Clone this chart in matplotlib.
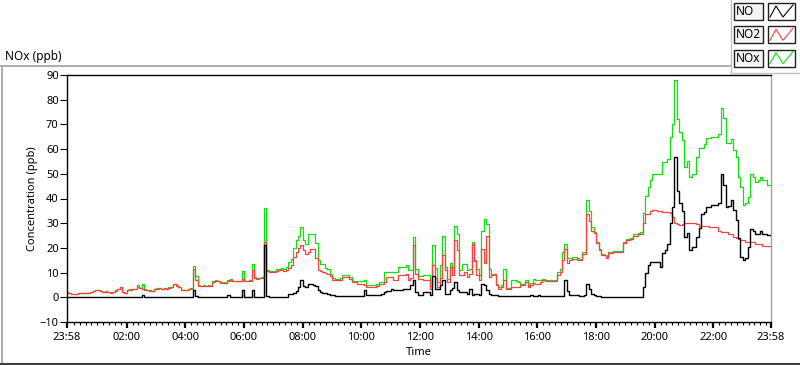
import matplotlib.pyplot as plt
import numpy as np
from matplotlib.lines import Line2D
from matplotlib.patches import Rectangle

# 5-minute readings from 23:58 to 23:58 next day, one row per hour
NO2_PPB = [
    2.0, 1.6, 1.3, 1.2, 1.3, 1.7, 1.8, 1.8, 1.7, 1.8, 2.1, 2.6,
    2.8, 2.8, 2.4, 2.2, 2.3, 2.0, 1.9, 2.0, 2.7, 3.2, 4.0, 2.2,
    1.8, 2.8, 3.1, 3.2, 3.3, 4.3, 3.6, 3.4, 3.1, 3.0, 2.7, 2.6,
    3.4, 3.5, 3.6, 3.4, 3.6, 3.3, 3.9, 4.2, 5.2, 4.6, 4.0, 2.8,
    2.8, 2.9, 3.3, 3.5, 11.5, 7.0, 4.6, 4.4, 4.6, 4.5, 4.6, 4.4,
    6.2, 6.6, 6.5, 5.9, 5.8, 5.7, 6.8, 7.0, 6.6, 6.5, 6.4, 6.6,
    7.6, 6.6, 6.6, 6.8, 10.9, 8.0, 7.6, 7.8, 8.0, 22.5, 10.5, 10.2,
    10.2, 10.3, 10.6, 10.9, 11.0, 10.8, 11.2, 12.0, 13.0, 16.5, 18.5, 20.0,
    21.0, 19.0, 17.7, 18.5, 19.5, 19.5, 16.0, 11.0, 10.5, 10.3, 9.8, 9.6,
    8.5, 7.0, 6.9, 6.9, 7.2, 8.2, 8.4, 8.2, 7.5, 6.2, 6.0, 5.5,
    5.5, 5.5, 5.0, 4.2, 4.2, 4.2, 4.3, 4.5, 5.3, 5.3, 6.2, 8.2,
    8.2, 8.2, 6.9, 6.9, 8.9, 8.9, 8.9, 9.6, 6.9, 8.0, 21.0, 9.6,
    7.6, 7.6, 6.9, 6.9, 6.9, 3.5, 13.0, 8.0, 4.2, 8.0, 17.0, 10.9,
    6.2, 12.3, 8.9, 23.0, 19.0, 8.9, 8.9, 10.3, 8.2, 9.6, 21.7, 14.5,
    8.9, 6.9, 19.7, 14.0, 25.0, 8.2, 8.9, 9.6, 4.9, 3.5, 4.2, 6.9,
    3.5, 3.5, 4.2, 4.2, 4.2, 4.2, 4.9, 4.9, 6.2, 4.2, 4.9, 5.9,
    5.5, 5.5, 6.2, 6.9, 6.6, 6.6, 6.6, 6.6, 6.6, 8.9, 10.3, 15.0,
    19.7, 14.0, 15.0, 15.5, 15.5, 15.0, 15.0, 17.7, 17.7, 33.9, 31.0, 27.0,
    26.0, 21.9, 19.0, 17.0, 17.0, 15.8, 17.8, 17.8, 18.4, 18.4, 18.4, 18.4,
    22.0, 23.0, 23.0, 23.5, 25.0, 25.0, 25.5, 25.8, 30.0, 33.9, 33.9, 35.0,
    35.2, 35.2, 35.0, 35.0, 34.5, 34.5, 34.5, 34.0, 32.5, 30.0, 29.5, 29.1,
    29.5, 30.0, 30.0, 30.0, 30.0, 30.0, 29.5, 29.0, 29.0, 29.0, 28.8, 28.5,
    28.5, 28.5, 28.5, 27.0, 26.4, 26.4, 26.4, 25.8, 25.8, 24.5, 23.9, 23.5,
    23.0, 23.0, 22.4, 22.4, 22.4, 22.4, 21.7, 21.7, 21.7, 20.6, 20.6, 20.6, 20.6,
]

NOX_PPB = [
    2.1, 1.7, 1.4, 1.3, 1.4, 1.8, 1.9, 1.9, 1.8, 1.9, 2.2, 2.7,
    2.9, 2.9, 2.5, 2.3, 2.4, 2.1, 2.0, 2.1, 2.8, 3.3, 4.1, 2.3,
    1.9, 2.9, 3.2, 3.4, 3.5, 5.0, 3.8, 5.2, 3.3, 3.1, 2.8, 2.7,
    3.5, 3.6, 3.7, 3.5, 3.7, 3.4, 4.0, 4.3, 5.4, 4.8, 4.2, 3.0,
    2.9, 3.0, 3.4, 3.6, 12.5, 8.5, 5.0, 4.6, 4.8, 4.7, 4.8, 4.6,
    6.4, 6.9, 6.8, 6.1, 6.0, 5.9, 7.1, 7.3, 6.8, 6.7, 6.6, 6.8,
    10.7, 6.8, 6.8, 7.0, 13.4, 8.3, 7.8, 8.0, 8.3, 36.0, 11.0, 10.5,
    10.6, 10.8, 11.3, 11.6, 11.8, 11.5, 12.2, 14.3, 15.5, 20.0, 23.0, 25.0,
    28.5, 23.0, 21.7, 25.5, 25.8, 25.8, 22.0, 15.0, 13.6, 13.5, 12.0, 11.6,
    9.5, 7.8, 7.6, 7.6, 8.0, 8.9, 9.2, 8.9, 8.3, 6.8, 6.6, 6.6,
    6.6, 6.6, 7.2, 4.9, 4.9, 4.9, 5.0, 5.2, 6.0, 6.0, 10.3, 10.3,
    10.3, 10.3, 10.3, 10.3, 12.3, 12.3, 12.3, 13.0, 10.9, 11.0, 24.4, 11.6,
    8.5, 8.5, 8.9, 8.9, 8.9, 4.5, 21.0, 12.0, 6.0, 13.0, 25.0, 12.3,
    7.5, 14.0, 12.3, 29.0, 25.8, 10.9, 13.6, 13.6, 10.9, 11.6, 22.4, 15.0,
    11.6, 8.9, 27.0, 31.8, 29.8, 11.6, 9.6, 9.6, 5.5, 4.2, 4.9, 11.6,
    3.9, 3.9, 7.2, 7.2, 6.5, 6.0, 5.5, 5.5, 6.9, 4.9, 5.9, 7.5,
    6.9, 6.9, 7.2, 7.5, 7.2, 7.2, 7.2, 7.2, 7.2, 10.3, 11.6, 18.4,
    21.7, 16.0, 16.0, 16.5, 16.5, 16.0, 15.5, 18.2, 18.2, 39.3, 35.0, 28.5,
    26.5, 22.5, 19.5, 17.5, 17.3, 16.2, 18.2, 18.2, 18.8, 18.8, 18.8, 18.8,
    22.5, 23.5, 23.5, 24.0, 25.5, 25.5, 26.0, 26.3, 34.0, 41.0, 44.7, 47.4,
    50.0, 50.0, 50.0, 50.0, 54.6, 54.6, 56.0, 64.9, 70.0, 88.0, 72.0, 67.0,
    63.6, 52.8, 55.0, 48.7, 50.0, 50.0, 56.8, 60.3, 60.3, 62.0, 64.4, 64.4,
    64.9, 64.9, 64.9, 66.0, 76.5, 72.5, 62.3, 62.3, 64.0, 59.5, 56.8, 48.7,
    44.7, 37.2, 38.0, 40.6, 50.1, 48.7, 46.7, 47.5, 48.7, 47.4, 47.4, 45.3, 45.3,
]

NO_PPB = [
    0.0, 0.0, 0.0, 0.0, 0.0, 0.0, 0.0, 0.0, 0.0, 0.0, 0.0, 0.0,
    0.0, 0.0, 0.0, 0.0, 0.0, 0.2, 0.0, 0.0, 0.0, 0.0, 0.0, 0.0,
    0.0, 0.0, 0.0, 0.0, 0.0, 0.3, 0.0, 1.0, 0.2, 0.0, 0.2, 0.0,
    0.0, 0.0, 0.2, 0.0, 0.0, 0.0, 0.0, 0.0, 0.0, 0.2, 0.0, 0.0,
    0.0, 0.0, 0.0, 0.2, 2.8, 0.5, 0.1, 0.0, 0.0, 0.0, 0.0, 0.0,
    0.0, 0.0, 0.0, 0.0, 0.0, 0.3, 0.8, 0.2, 0.0, 0.0, 0.2, 0.0,
    2.8, 0.0, 0.0, 0.0, 2.8, 0.2, 0.0, 0.0, 0.2, 21.0, 0.5, 0.0,
    0.0, 0.0, 0.0, 0.0, 0.0, 0.0, 0.3, 1.2, 1.2, 1.8, 2.5, 4.0,
    7.0, 4.5, 4.0, 5.5, 5.5, 5.0, 4.5, 3.0, 2.0, 1.8, 1.6, 1.5,
    1.0, 0.8, 0.7, 0.6, 0.5, 0.5, 0.5, 0.5, 0.5, 0.5, 0.5, 0.5,
    0.5, 0.5, 2.8, 0.8, 0.8, 0.8, 0.8, 0.9, 1.0, 1.2, 2.2, 2.5,
    2.5, 3.5, 2.8, 2.8, 2.8, 2.8, 3.5, 3.5, 3.5, 4.9, 6.9, 2.2,
    0.8, 0.8, 2.0, 2.0, 2.0, 0.8, 8.5, 3.5, 3.5, 5.0, 6.9, 1.5,
    1.5, 3.0, 3.9, 6.2, 2.8, 2.2, 2.2, 2.2, 1.5, 3.5, 1.0, 1.5,
    1.5, 0.8, 5.5, 4.9, 2.8, 1.5, 1.0, 0.8, 0.8, 0.4, 0.4, 0.4,
    0.4, 0.4, 0.4, 0.4, 0.4, 0.4, 0.6, 0.4, 0.4, 0.4, 0.8, 0.6,
    0.6, 0.8, 0.4, 0.4, 0.4, 0.4, 0.4, 0.4, 0.4, 0.4, 0.4, 0.4,
    6.9, 2.5, 1.0, 1.0, 0.8, 0.8, 0.6, 0.6, 0.8, 5.5, 3.5, 1.5,
    1.0, 0.6, 0.4, 0.2, 0.2, 0.2, 0.2, 0.2, 0.2, 0.2, 0.2, 0.2,
    0.2, 0.2, 0.2, 0.2, 0.2, 0.2, 0.2, 0.3, 4.0, 9.7, 13.0, 14.3,
    14.3, 14.3, 14.3, 12.3, 18.0, 19.0, 21.7, 30.0, 36.6, 56.8, 43.0, 38.0,
    35.0, 24.4, 26.0, 19.0, 20.4, 20.4, 24.4, 28.0, 33.9, 34.5, 36.6, 36.6,
    37.2, 37.2, 37.2, 38.0, 50.0, 45.5, 36.6, 37.0, 39.3, 35.2, 31.2, 24.0,
    16.3, 15.0, 16.0, 20.4, 27.8, 27.0, 25.8, 25.8, 27.0, 25.8, 25.8, 25.1, 25.1,
]

TICK_LABELS = ["23:58", "02:00", "04:00", "06:00", "08:00", "10:00", "12:00",
               "14:00", "16:00", "18:00", "20:00", "22:00", "23:58"]
SERIES = ["NO", "NO2", "NOx"]
COLORS = {"NO": "#000000", "NO2": "#ff4040", "NOx": "#10e010"}

W, H = 800, 365
plt.rcParams["font.family"] = ["Noto Sans", "DejaVu Sans"]
plt.rcParams["font.size"] = 8

# hours since 23:58
hours = np.arange(len(NO_PPB)) * 5 / 60
start_offset = 2 / 60  # 23:58 -> 00:00

fig = plt.figure(figsize=(W / 100, H / 100), dpi=100)
ax = fig.add_axes([67 / W, 1 - 322 / H, (771 - 67) / W, (322 - 75) / H])

ax.plot(hours, NOX_PPB, color=COLORS["NOx"], lw=0.9, drawstyle="steps-mid")
ax.plot(hours, NO2_PPB, color=COLORS["NO2"], lw=0.9, drawstyle="steps-mid")
ax.plot(hours, NO_PPB, color=COLORS["NO"], lw=1.0, drawstyle="steps-mid")

ax.set_xlim(0, 24)
ax.set_ylim(-10, 90)

major = [0] + [h + start_offset for h in range(2, 24, 2)] + [24]
ax.set_xticks(major)
ax.set_xticklabels(TICK_LABELS)
minor = [m * 0.2 + start_offset for m in range(0, 120)]
minor = [m for m in minor if 0 < m < 24 and min(abs(m - t) for t in major) > 0.1]
ax.set_xticks(minor, minor=True)
ax.set_yticks(np.arange(-10, 91, 10))

ax.tick_params(axis="x", which="major", length=4, width=1.6, pad=3)
ax.tick_params(axis="x", which="minor", length=2.5, width=0.8)
ax.tick_params(axis="y", which="major", length=5, width=0.8, pad=1)

ax.set_xlabel("Time", labelpad=3)
ax.set_ylabel("Concentration (ppb)", labelpad=1)

for side in ["top", "left", "bottom"]:
    ax.spines[side].set_color("black")
    ax.spines[side].set_linewidth(1.0)
ax.spines["right"].set_color("#a0a0a0")
ax.spines["right"].set_linewidth(1.0)


def fx(px):
    return px / W


def fy(py):
    return 1 - py / H


# outer panel frame
fig.add_artist(Line2D([fx(0), fx(731)], [fy(65.5), fy(65.5)], color="#a0a0a0", lw=1.2))
fig.add_artist(Line2D([fx(1.5), fx(1.5)], [fy(65.5), fy(363)], color="#a0a0a0", lw=1.2))
fig.add_artist(Line2D([fx(0), fx(800)], [fy(363.5), fy(363.5)], color="#404040", lw=1.5))
fig.add_artist(Line2D([fx(731), fx(731)], [fy(0), fy(73)], color="#c0c0c0", lw=1.0))
fig.add_artist(Line2D([fx(731), fx(800)], [fy(73), fy(73)], color="#c0c0c0", lw=1.0))

fig.text(fx(5), fy(56.5), "NOx (ppb)", fontsize=8.5, va="center", ha="left")

# legend boxes
for i, name in enumerate(SERIES):
    top = 3 + i * 23.3
    bottom = top + 17
    fig.add_artist(Rectangle((fx(734), fy(bottom)), (763 - 734) / W, 17 / H,
                             facecolor="#f4f4f4", edgecolor="#202020", lw=1.0))
    fig.add_artist(Rectangle((fx(768), fy(bottom)), (795 - 768) / W, 17 / H,
                             facecolor="white", edgecolor="#202020", lw=1.0))
    fig.text(fx(736), fy((top + bottom) / 2), name, fontsize=8.5, va="center", ha="left")
    zx = [770, 776, 783, 793]
    zy = [bottom - 3, top + 3, bottom - 3, top + 2]
    fig.add_artist(Line2D([fx(v) for v in zx], [fy(v) for v in zy],
                          color=COLORS[name], lw=0.8))

fig.savefig("out.png", dpi=100)
